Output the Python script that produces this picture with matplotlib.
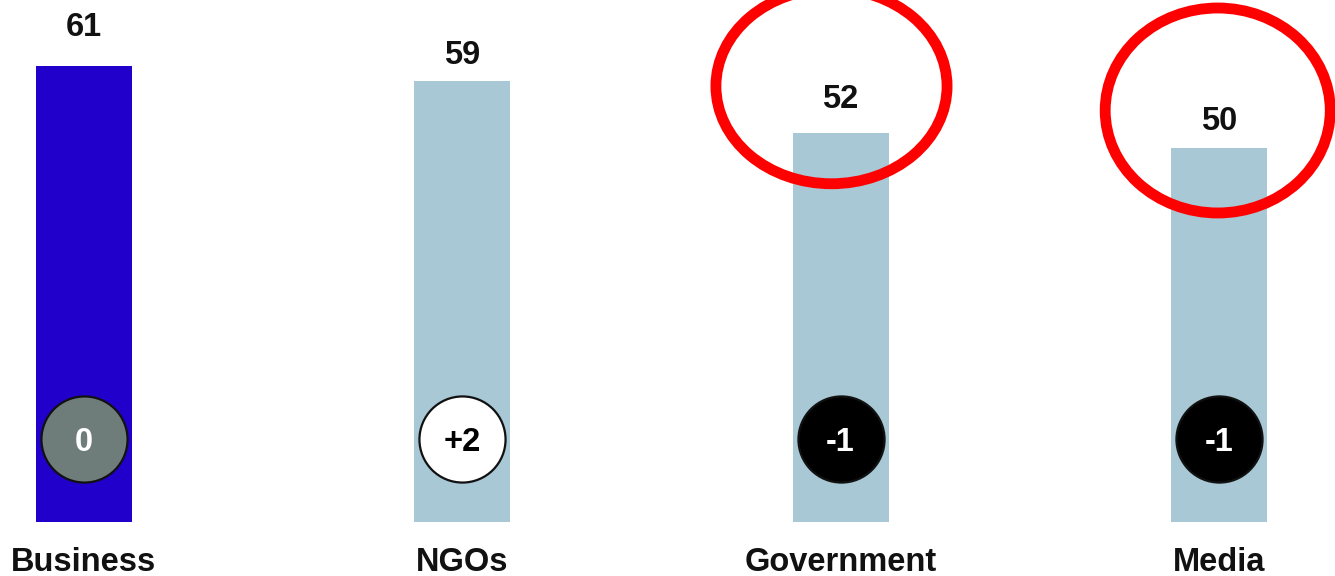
import matplotlib.pyplot as plt
from matplotlib.patches import Ellipse

plt.rcParams['font.family'] = ['Liberation Sans', 'DejaVu Sans']

# ===== data =====
categories = ['Business', 'NGOs', 'Government', 'Media']
trust = [61, 59, 52, 50]
change = ['0', '+2', '-1', '-1']

bar_colors = ['#2200cc', '#a8c8d5', '#a8c8d5', '#a8c8d5']
dot_colors = ['#6e7d7a', 'white', 'black', 'black']
dot_text = ['white', 'black', 'white', 'white']
label_gap = [30, 17, 25, 18]   # px between bar top and value label baseline

FS = 23.5
half_cap = FS * 0.716 / 2   # points, to centre digits on a baseline

fig = plt.figure(figsize=(13.35, 5.76), dpi=100)
ax = fig.add_axes([0, 0, 1, 1])
ax.set_xlim(-0.222, 3.307)
ax.set_ylim(-7.224, 69.83)
ax.axis('off')

x = list(range(len(categories)))
ax.bar(x, trust, width=0.254, color=bar_colors, zorder=1)

for i, v in enumerate(trust):
    ax.annotate(str(v), (i, v), xytext=(0, label_gap[i] * 0.72), textcoords='offset points',
                ha='center', va='baseline', fontsize=FS, fontweight='bold', color='#111111')
    # change bubble
    ax.plot(i, 11.1, marker='o', ms=62, mfc=dot_colors[i], mec='#111111', mew=1.6, zorder=3)
    ax.annotate(change[i], (i, 11.1), xytext=(0, -half_cap - 0.5), textcoords='offset points',
                ha='center', va='baseline', fontsize=FS, fontweight='bold',
                color=dot_text[i], zorder=4)
    ax.text(i, -6.55, categories[i], ha='center', va='baseline', fontsize=FS,
            fontweight='bold', color='#111111')

# red highlight rings
ax.add_patch(Ellipse((1.976, 58.3), 0.611, 26.1, fill=False, ec='#ff0000', lw=7.8, zorder=5))
ax.add_patch(Ellipse((2.997, 55.05), 0.595, 27.42, fill=False, ec='#ff0000', lw=7.8, zorder=5))

plt.savefig('out.png', dpi=100)
